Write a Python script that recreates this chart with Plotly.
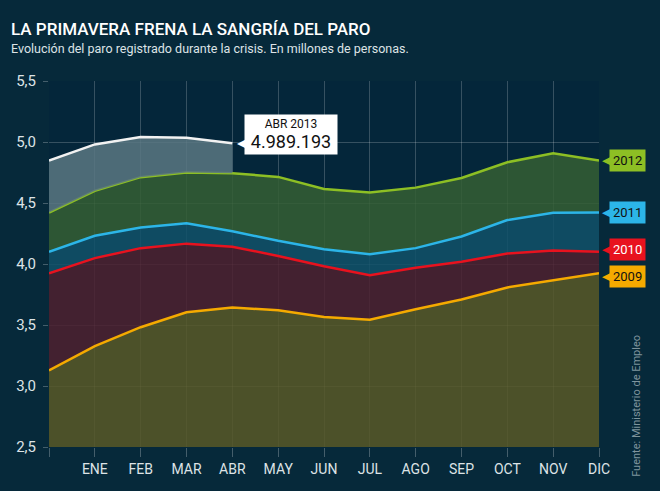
import plotly.graph_objects as go

# meses: el primer punto es diciembre del año anterior
meses = ["", "ENE", "FEB", "MAR", "ABR", "MAY", "JUN", "JUL", "AGO", "SEP", "OCT", "NOV", "DIC"]
x = list(range(len(meses)))

paro_2009 = [3.128, 3.327, 3.482, 3.605, 3.644, 3.621, 3.565, 3.544, 3.629, 3.709, 3.808, 3.869, 3.924]
paro_2010 = [3.924, 4.048, 4.130, 4.167, 4.142, 4.066, 3.982, 3.908, 3.969, 4.018, 4.086, 4.110, 4.100]
paro_2011 = [4.100, 4.231, 4.299, 4.333, 4.269, 4.190, 4.121, 4.080, 4.130, 4.226, 4.360, 4.420, 4.422]
paro_2012 = [4.422, 4.599, 4.712, 4.750, 4.744, 4.714, 4.615, 4.587, 4.626, 4.705, 4.834, 4.908, 4.848]
paro_2013 = [4.848, 4.980, 5.040, 5.035, 4.989]

ultimo_dato = "4.989.193"

FONDO = "#06293a"
FUENTE = "Roboto, Arial, sans-serif"

# (nombre, valores, color línea, relleno, color texto etiqueta)
series = [
    ("2009", paro_2009, "#f5aa00", "rgba(88,88,38,0.86)", "#111111"),
    ("2010", paro_2010, "#e8121e", "rgba(78,33,46,0.86)", "#ffffff"),
    ("2011", paro_2011, "#2cb5e8", "rgba(17,81,105,0.86)", "#111111"),
    ("2012", paro_2012, "#8dbf24", "rgba(52,94,51,0.86)", "#111111"),
]

fig = go.Figure()

for i, (nombre, vals, color, relleno, _) in enumerate(series):
    fig.add_trace(go.Scatter(
        x=x, y=vals, mode="lines",
        line=dict(color=color, width=2.5),
        fill="tozeroy" if i == 0 else "tonexty",
        fillcolor=relleno,
        hoverinfo="skip", showlegend=False))

# base invisible para rellenar 2013 solo hasta abril
fig.add_trace(go.Scatter(
    x=x[:len(paro_2013)], y=paro_2012[:len(paro_2013)], mode="lines",
    line=dict(width=0, color="rgba(0,0,0,0)"), hoverinfo="skip", showlegend=False))
fig.add_trace(go.Scatter(
    x=x[:len(paro_2013)], y=paro_2013, mode="lines",
    line=dict(color="#f2f2f2", width=2.5),
    fill="tonexty", fillcolor="rgba(90,119,129,0.86)",
    hoverinfo="skip", showlegend=False))

# etiquetas de año a la derecha
desplaz = {"2009": -3, "2010": 2, "2011": 0, "2012": 0}
for nombre, vals, color, _, texto in series:
    fig.add_annotation(x=x[-1], y=vals[-1], text="◀", showarrow=False,
                       xanchor="left", xshift=1, yshift=desplaz[nombre],
                       font=dict(size=11, color=color, family="DejaVu Sans"))
    fig.add_annotation(x=x[-1], y=vals[-1], text=nombre, showarrow=False,
                       xanchor="left", xshift=10, yshift=desplaz[nombre],
                       bgcolor=color, borderpad=3,
                       font=dict(size=13, color=texto, family=FUENTE))

# bocadillo con el último dato
fig.add_annotation(x=x[len(paro_2013) - 1], y=paro_2013[-1], text="◀", showarrow=False,
                   xanchor="left", xshift=3,
                   font=dict(size=12, color="#ffffff", family="DejaVu Sans"))
fig.add_annotation(x=x[len(paro_2013) - 1], y=paro_2013[-1],
                   text="<span style='font-size:12px'>ABR 2013</span><br>"
                        "<span style='font-size:18px'>" + ultimo_dato + "</span>",
                   showarrow=False, xanchor="left", xshift=12, yshift=9,
                   bgcolor="#ffffff", borderpad=2, width=88, align="center",
                   font=dict(size=15, color="#111111", family=FUENTE))

# título, subtítulo y fuente
fig.add_annotation(xref="paper", yref="paper", x=-0.073, y=1.141, xanchor="left", yanchor="middle",
                   text="LA PRIMAVERA FRENA LA SANGRÍA DEL PARO", showarrow=False,
                   font=dict(size=17, color="#ffffff", family=FUENTE, weight=500))
fig.add_annotation(xref="paper", yref="paper", x=-0.073, y=1.090, xanchor="left", yanchor="middle",
                   text="Evolución del paro registrado durante la crisis. En millones de personas.",
                   showarrow=False, font=dict(size=12.5, color="#dde3e6", family=FUENTE))
fig.add_annotation(xref="paper", yref="paper", x=1.067, y=0.112, xanchor="center", yanchor="middle",
                   text="Fuente: Ministerio de Empleo", textangle=-90, showarrow=False,
                   font=dict(size=11, color="#7f949d", family=FUENTE))

fig.update_layout(
    width=660, height=491,
    margin=dict(l=49, r=61, t=81, b=44),
    paper_bgcolor=FONDO, plot_bgcolor="#04263a",
    separators=",.",
    xaxis=dict(range=[0, 12], tickvals=x, ticktext=meses,
               showgrid=True, gridcolor="rgba(255,255,255,0.2)", gridwidth=1,
               ticks="outside", ticklen=9, tickcolor="rgba(255,255,255,0.25)",
               tickfont=dict(size=14, color="#dde3e6", family=FUENTE),
               zeroline=False, showline=False, fixedrange=True),
    yaxis=dict(range=[2.5, 5.5], dtick=0.5, tickformat=".1f",
               showgrid=True, gridcolor="rgba(255,255,255,0.2)", gridwidth=1,
               ticks="outside", ticklen=5, tickcolor="rgba(255,255,255,0.25)",
               ticklabelstandoff=4,
               tickfont=dict(size=15, color="#dde3e6", family=FUENTE),
               zeroline=False, showline=False, fixedrange=True),
)

fig.write_html("out.html", config={"displayModeBar": False},
               post_script="document.body.style.margin='0';"
                           "document.body.style.background='" + FONDO + "';")
